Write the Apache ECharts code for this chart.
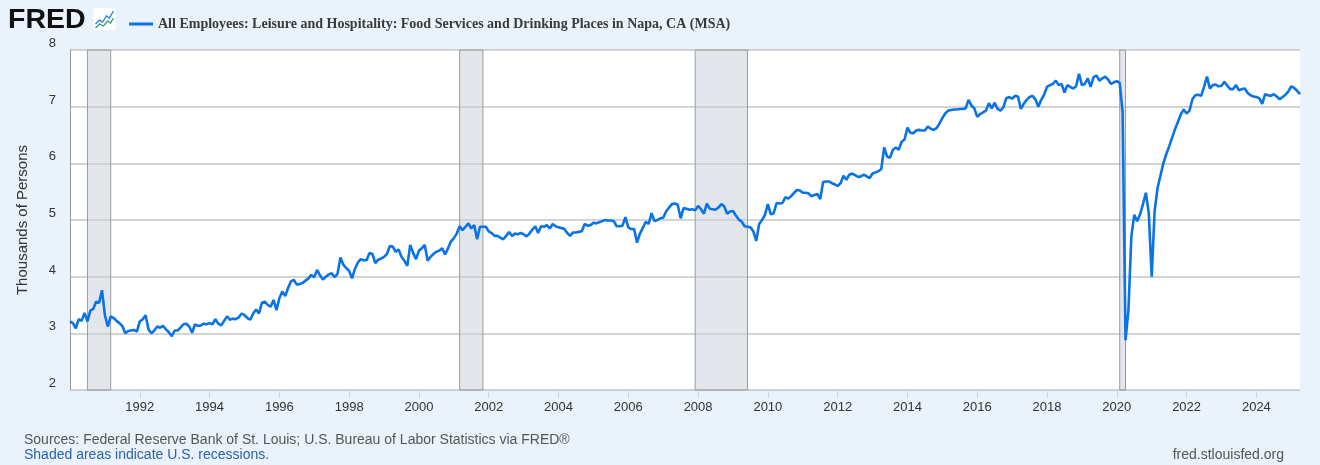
<!DOCTYPE html>
<html lang="en">
<head>
    <meta charset="utf-8">
    <title>FRED - Napa food services employment</title>
    <script src="https://cdn.jsdelivr.net/npm/echarts/dist/echarts.min.js"></script>
    <style>
        html, body { margin: 0; padding: 0; background: #eaf2fb; }
    </style>
</head>
<body>
    <div id="main" style="width: 1320px;height:465px;"></div>
    <script>
    // monthly values, thousands of persons
    var v1990s = [
        3.21, 3.18, 3.09, 3.25, 3.22, 3.36, 3.21, 3.40, 3.43, 3.56, 3.54, 3.76,
        3.32, 3.12, 3.30, 3.27, 3.22, 3.18, 3.13, 3.00, 3.04, 3.05, 3.06, 3.03,
        3.21, 3.25, 3.32, 3.07, 3.00, 3.05, 3.12, 3.10, 3.13, 3.07, 3.02, 2.95,
        3.05, 3.05, 3.10, 3.16, 3.17, 3.12, 3.01, 3.16, 3.13, 3.14, 3.17, 3.16,
        3.18, 3.16, 3.25, 3.17, 3.14, 3.22, 3.30, 3.24, 3.26, 3.25, 3.28, 3.35,
        3.32, 3.27, 3.24, 3.35, 3.42, 3.35, 3.54, 3.56, 3.50, 3.47, 3.59, 3.41,
        3.62, 3.74, 3.66, 3.80, 3.92, 3.94, 3.86, 3.87, 3.89, 3.93, 3.97, 4.03,
        3.99, 4.12, 4.02, 3.95, 4.00, 4.04, 4.06, 3.99, 4.05, 4.34, 4.21, 4.15,
        4.10, 3.97, 4.14, 4.25, 4.31, 4.29, 4.29, 4.42, 4.40, 4.24, 4.30, 4.32,
        4.35, 4.40, 4.54, 4.53, 4.44, 4.48, 4.35, 4.28, 4.19, 4.56, 4.42, 4.31
    ];
    var v2000s = [
        4.46, 4.50, 4.56, 4.28, 4.35, 4.40, 4.44, 4.46, 4.50, 4.39, 4.50, 4.62,
        4.68, 4.76, 4.89, 4.82, 4.88, 4.94, 4.85, 4.91, 4.66, 4.88, 4.88, 4.88,
        4.80, 4.77, 4.72, 4.72, 4.69, 4.66, 4.72, 4.79, 4.72, 4.76, 4.75, 4.77,
        4.75, 4.71, 4.76, 4.83, 4.89, 4.77, 4.89, 4.88, 4.91, 4.85, 4.93, 4.89,
        4.87, 4.86, 4.84, 4.77, 4.72, 4.78, 4.78, 4.79, 4.80, 4.93, 4.90, 4.91,
        4.95, 4.94, 4.96, 4.98, 5.00, 4.99, 4.99, 4.98, 4.89, 4.89, 4.90, 5.05,
        4.87, 4.84, 4.84, 4.60, 4.76, 4.86, 4.97, 4.93, 5.12, 4.98, 5.00, 5.03,
        5.04, 5.15, 5.22, 5.28, 5.29, 5.27, 5.03, 5.21, 5.20, 5.18, 5.19, 5.17,
        5.25, 5.19, 5.11, 5.29, 5.20, 5.19, 5.18, 5.22, 5.28, 5.24, 5.11, 5.15,
        5.16, 5.08, 5.01, 4.97, 4.89, 4.88, 4.87, 4.80, 4.63, 4.93, 5.00, 5.09
    ];
    var v2010s = [
        5.28, 5.10, 5.12, 5.30, 5.29, 5.30, 5.40, 5.38, 5.42, 5.48, 5.53, 5.52,
        5.48, 5.48, 5.47, 5.42, 5.44, 5.46, 5.37, 5.67, 5.68, 5.68, 5.65, 5.63,
        5.60, 5.65, 5.78, 5.71, 5.80, 5.82, 5.79, 5.76, 5.77, 5.80, 5.77, 5.74,
        5.82, 5.84, 5.86, 5.90, 6.28, 6.12, 6.10, 6.24, 6.28, 6.24, 6.38, 6.42,
        6.63, 6.54, 6.53, 6.58, 6.59, 6.58, 6.58, 6.65, 6.61, 6.59, 6.62, 6.70,
        6.80, 6.88, 6.93, 6.94, 6.95, 6.95, 6.96, 6.96, 6.97, 7.12, 7.02, 6.97,
        6.82, 6.87, 6.90, 6.93, 7.06, 6.97, 7.07, 6.96, 6.93, 6.99, 7.15, 7.17,
        7.14, 7.19, 7.18, 6.96, 7.05, 7.12, 7.17, 7.19, 7.13, 7.00, 7.12, 7.21,
        7.35, 7.38, 7.40, 7.46, 7.38, 7.40, 7.25, 7.38, 7.35, 7.32, 7.36, 7.58,
        7.38, 7.40, 7.50, 7.35, 7.52, 7.55, 7.46, 7.50, 7.53, 7.48, 7.40, 7.43
    ];
    var v2020s = [
        7.45, 7.42, 6.90, 2.88, 3.41, 4.71, 5.09, 4.98, 5.10, 5.28, 5.48, 5.12,
        4.00, 5.15, 5.56, 5.78, 6.00, 6.16, 6.30, 6.45, 6.60, 6.73, 6.86, 6.95,
        6.88, 6.93, 7.13, 7.20, 7.21, 7.19, 7.35, 7.53, 7.32, 7.38, 7.39, 7.36,
        7.37, 7.44, 7.37, 7.31, 7.31, 7.38, 7.29, 7.31, 7.32, 7.24, 7.20, 7.18,
        7.17, 7.15, 7.05, 7.22, 7.20, 7.19, 7.22, 7.18, 7.13, 7.17, 7.21, 7.27,
        7.36, 7.33, 7.28, 7.22
    ];
    var values = v1990s.concat(v2000s, v2010s, v2020s);

    // recession periods (peak month, trough month)
    var recessions = [
        ['1990-07', '1991-03'],
        ['2001-03', '2001-11'],
        ['2007-12', '2009-06'],
        ['2020-02', '2020-04']
    ];
    var yTicks = [2, 3, 4, 5, 6, 7, 8];

    var seriesName = 'All Employees: Leisure and Hospitality: Food Services and Drinking Places in Napa, CA (MSA)';

    // month categories 1990-01 .. 2025-04
    var months = [];
    for (var i = 0; i < values.length; i++) {
        var yr = 1990 + Math.floor(i / 12);
        var mo = (i % 12) + 1;
        months.push(yr + '-' + (mo < 10 ? '0' + mo : mo));
    }
    function isTickMonth(value) {
        var yr = parseInt(value.slice(0, 4), 10);
        return value.slice(5) === '01' && yr % 2 === 0 && yr > 1990;
    }

    var myChart = echarts.init(document.getElementById('main'));
    var option = {
        backgroundColor: '#eaf2fb',
        animation: false,
        textStyle: { fontFamily: 'Liberation Sans, Arial, sans-serif' },
        grid: { left: 70, right: 20, top: 50, bottom: 75, backgroundColor: '#fff', show: true, borderWidth: 0 },
        legend: {
            left: 124,
            top: 12,
            icon: 'rect',
            itemWidth: 24,
            itemHeight: 3,
            itemGap: 5,
            textStyle: {
                fontFamily: 'Liberation Serif, Times New Roman, serif',
                fontWeight: 'bold',
                fontSize: 14,
                color: '#3a3a3a'
            },
            data: [seriesName]
        },
        graphic: [
            {
                type: 'text', left: 8, top: 6,
                style: { text: 'FRED', fontSize: 28.5, fontWeight: 900, fontFamily: 'Liberation Sans, Arial', fill: '#111' }
            },
            {
                type: 'group', left: 93, top: 8,
                children: [
                    { type: 'rect', shape: { x: 0, y: 0, width: 22, height: 22, r: 2 }, style: { fill: '#fff' } },
                    { type: 'polyline', shape: { points: [[2, 16], [6, 12], [9, 14], [13, 8], [16, 10], [20, 3]] }, style: { stroke: '#2c7be5', lineWidth: 1.3, fill: null } },
                    { type: 'polyline', shape: { points: [[2, 20], [6, 16], [10, 18], [14, 13], [17, 15], [20, 10]] }, style: { stroke: '#2e9e6a', lineWidth: 1.3, fill: null } }
                ]
            },
            {
                type: 'text', left: 24, top: 433,
                style: { text: 'Sources: Federal Reserve Bank of St. Louis; U.S. Bureau of Labor Statistics via FRED\u00ae', fontSize: 14, fill: '#555', fontFamily: 'Liberation Sans, Arial' }
            },
            {
                type: 'text', left: 24, top: 448,
                style: { text: 'Shaded areas indicate U.S. recessions.', fontSize: 14, fill: '#2a63a8', fontFamily: 'Liberation Sans, Arial' }
            },
            {
                type: 'text', right: 36, top: 448,
                style: { text: 'fred.stlouisfed.org', fontSize: 14, fill: '#555', fontFamily: 'Liberation Sans, Arial' }
            }
        ],
        xAxis: {
            type: 'category',
            data: months,
            boundaryGap: false,
            axisLine: { lineStyle: { color: '#c3ccd8', width: 1 } },
            axisTick: {
                show: true,
                length: 8,
                interval: function (index, value) { return isTickMonth(value); },
                lineStyle: { color: '#c9d6ea' }
            },
            axisLabel: {
                interval: function (index, value) { return isTickMonth(value); },
                formatter: function (value) { return value.slice(0, 4); },
                color: '#333',
                fontSize: 13,
                margin: 11
            },
            splitLine: { show: false }
        },
        yAxis: {
            type: 'value',
            min: yTicks[0],
            max: yTicks[yTicks.length - 1],
            interval: 1,
            name: 'Thousands of Persons',
            nameLocation: 'middle',
            nameGap: 40,
            nameRotate: 90,
            nameTextStyle: { fontSize: 15, color: '#333' },
            axisLine: { show: true, lineStyle: { color: '#999', width: 1 } },
            axisTick: { show: false },
            axisLabel: {
                color: '#333',
                fontSize: 13,
                margin: 14,
                verticalAlign: 'bottom'
            },
            splitLine: { lineStyle: { color: '#c6c6c6', width: 1.5 } }
        },
        series: [
            {
                name: seriesName,
                type: 'line',
                data: values,
                showSymbol: false,
                symbol: 'none',
                lineStyle: { color: '#0b73e6', width: 2.6 },
                itemStyle: { color: '#0b73e6' },
                markArea: {
                    silent: true,
                    itemStyle: {
                        color: 'rgba(200, 208, 218, 0.5)',
                        borderColor: '#9a9a9a',
                        borderWidth: 1
                    },
                    data: recessions.map(function (r) {
                        return [{ xAxis: r[0] }, { xAxis: r[1] }];
                    })
                }
            }
        ]
    };
    myChart.setOption(option);
    </script>
</body>
</html>
